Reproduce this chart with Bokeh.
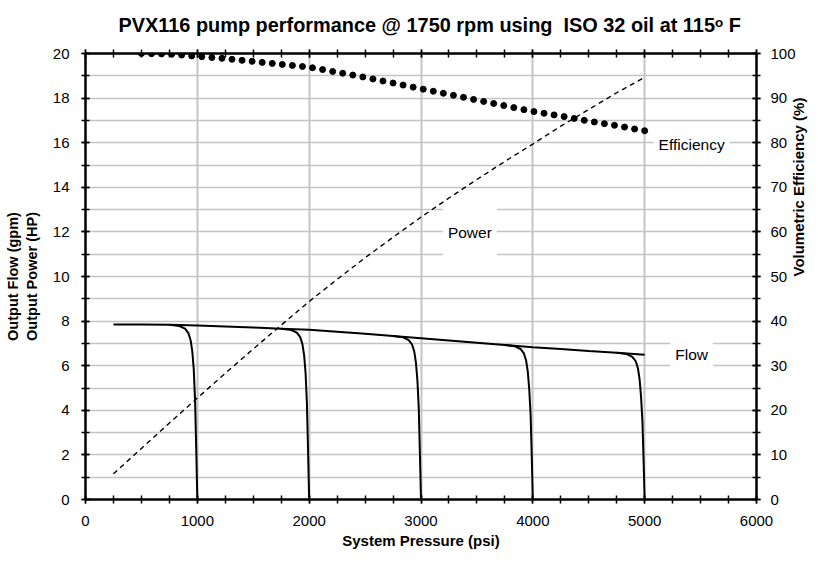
import math
from bokeh.plotting import figure
from bokeh.models import Range1d, LinearAxis, SingleIntervalTicker, Label
from bokeh.embed import file_html
from bokeh.resources import INLINE

FONT = "Liberation Sans"

# ---- data ----
flow_pressure = [250, 500, 750, 1000, 1250, 1500, 1750, 2000, 2250, 2500,
                 2750, 3000, 3250, 3500, 3750, 4000, 4250, 4500, 4750, 5000]
flow_gpm = [7.85, 7.85, 7.84, 7.80, 7.76, 7.71, 7.66, 7.61, 7.52, 7.43,
            7.33, 7.23, 7.13, 7.03, 6.93, 6.83, 6.75, 6.66, 6.58, 6.49]
power_hp = [1.15, 2.29, 3.43, 4.55, 5.66, 6.75, 7.82, 8.88, 9.87, 10.84,
            11.76, 12.66, 13.52, 14.35, 15.16, 15.94, 16.74, 17.49, 18.24, 18.93]

eff_pressure = [500, 590, 680, 770, 860, 950, 1040, 1130, 1220, 1310, 1400, 1490,
                1580, 1670, 1760, 1850, 1940, 2030, 2120, 2210, 2300, 2390, 2480,
                2570, 2660, 2750, 2840, 2930, 3020, 3110, 3200, 3290, 3380, 3470,
                3560, 3650, 3740, 3830, 3920, 4010, 4100, 4190, 4280, 4370, 4460,
                4550, 4640, 4730, 4820, 4910, 5000]
eff_pct = [100.0, 99.95, 99.9, 99.83, 99.65, 99.46, 99.29, 99.10, 98.92, 98.70,
           98.47, 98.24, 98.01, 97.78, 97.55, 97.32, 97.09, 96.80, 96.39, 95.97,
           95.57, 95.16, 94.74, 94.29, 93.83, 93.38, 92.92, 92.46, 92.00, 91.54,
           91.08, 90.62, 90.17, 89.71, 89.25, 88.79, 88.33, 87.87, 87.41, 86.97,
           86.60, 86.23, 85.85, 85.44, 85.02, 84.64, 84.27, 83.90, 83.50, 83.08,
           82.68]

relief_1000_x = [750, 840, 890, 920, 940, 955, 968, 980, 990, 1000]
relief_1000_y = [7.84, 7.78, 7.66, 7.46, 7.14, 6.64, 5.84, 4.40, 2.30, 0.0]
relief_2000_x = [1750, 1840, 1890, 1920, 1940, 1955, 1968, 1980, 1990, 2000]
relief_2000_y = [7.66, 7.60, 7.48, 7.28, 6.96, 6.46, 5.66, 4.30, 2.20, 0.0]
relief_3000_x = [2750, 2840, 2890, 2920, 2940, 2955, 2968, 2980, 2990, 3000]
relief_3000_y = [7.33, 7.27, 7.15, 6.95, 6.63, 6.13, 5.33, 4.10, 2.10, 0.0]
relief_4000_x = [3750, 3840, 3890, 3920, 3940, 3955, 3968, 3980, 3990, 4000]
relief_4000_y = [6.93, 6.87, 6.75, 6.55, 6.23, 5.73, 4.93, 3.80, 2.00, 0.0]
relief_5000_x = [4750, 4840, 4890, 4920, 4940, 4955, 4968, 4980, 4990, 5000]
relief_5000_y = [6.58, 6.52, 6.40, 6.20, 5.88, 5.38, 4.58, 3.50, 1.80, 0.0]

x_ticks_all = [0, 1000, 2000, 3000, 4000, 5000, 6000]

p = figure(width=818, height=563,
           x_range=Range1d(0, 6000), y_range=Range1d(0, 20),
           output_backend="svg", toolbar_location=None,
           min_border_left=85, min_border_right=61,
           min_border_top=53, min_border_bottom=64)
p.extra_y_ranges = {"eff": Range1d(0, 100)}
p.background_fill_color = "white"
p.border_fill_color = "white"
p.outline_line_color = "black"
p.outline_line_width = 2


def style_axis(ax):
    ax.axis_line_color = "black"
    ax.axis_line_width = 2
    ax.major_tick_line_color = "black"
    ax.major_tick_line_width = 1.5
    ax.minor_tick_line_color = "black"
    ax.minor_tick_line_width = 1.5
    ax.major_tick_in = 4
    ax.major_tick_out = 4
    ax.minor_tick_in = 4
    ax.minor_tick_out = 4
    ax.major_label_text_font = FONT
    ax.major_label_text_font_size = "15px"
    ax.major_label_text_color = "black"
    ax.axis_label_text_font = FONT
    ax.axis_label_text_font_style = "bold"
    ax.axis_label_text_font_size = "15px"
    ax.axis_label_text_color = "black"


xa = p.xaxis[0]
xa.ticker = SingleIntervalTicker(interval=1000, num_minor_ticks=4)
style_axis(xa)
xa.major_label_standoff = 12
xa.axis_label = "System Pressure (psi)"
xa.axis_label_standoff = 3

ya = p.yaxis[0]
ya.ticker = SingleIntervalTicker(interval=2, num_minor_ticks=2)
style_axis(ya)
ya.major_label_standoff = 12
ya.axis_label = "Output Flow (gpm)\nOutput Power (HP)"
ya.axis_label_standoff = 10
ya.axis_label_text_font_size = "14.5px"

ra = LinearAxis(y_range_name="eff",
                ticker=SingleIntervalTicker(interval=10, num_minor_ticks=2))
style_axis(ra)
ra.major_label_standoff = 10
ra.axis_label = "Volumetric Efficiency (%)"
ra.axis_label_standoff = 0
try:
    ra.axis_label_orientation = math.pi / 2
except Exception:
    pass
p.add_layout(ra, "right")

ta = LinearAxis(ticker=SingleIntervalTicker(interval=1000, num_minor_ticks=4))
style_axis(ta)
ta.major_label_overrides = {t: "" for t in x_ticks_all}
ta.major_label_text_font_size = "1px"
ta.major_label_standoff = 0
p.add_layout(ta, "above")

p.xgrid.ticker = SingleIntervalTicker(interval=1000)
p.ygrid.ticker = SingleIntervalTicker(interval=1)
p.xgrid.grid_line_color = "#c4c4c4"
p.xgrid.grid_line_width = 2
p.ygrid.grid_line_color = "#c4c4c4"
p.ygrid.grid_line_width = 1.5

# ---- glyphs ----
p.line(flow_pressure, power_hp, line_color="black", line_width=1.4, line_dash="5 4")
p.line(flow_pressure, flow_gpm, line_color="black", line_width=2)
for rx, ry in [(relief_1000_x, relief_1000_y), (relief_2000_x, relief_2000_y),
               (relief_3000_x, relief_3000_y), (relief_4000_x, relief_4000_y),
               (relief_5000_x, relief_5000_y)]:
    p.line(rx, ry, line_color="black", line_width=2)
p.scatter(eff_pressure, eff_pct, y_range_name="eff", size=6,
          fill_color="black", line_color="black")

# ---- series labels with white boxes ----
for txt, x, y, pad in [("Efficiency", 5420, 15.92, (5, 6)),
                       ("Flow", 5420, 6.5, (5, 22)),
                       ("Power", 3437, 11.97, (5, 18))]:
    p.add_layout(Label(x=x, y=y, text=txt, text_align="center", text_baseline="middle",
                       text_font=FONT, text_font_size="15.5px", text_color="black",
                       background_fill_color="white", padding=pad))

p.title.text = "PVX116 pump performance @ 1750 rpm using\u00a0 ISO 32 oil at 115\u1d52 F"
p.title.align = "left"
p.title.offset = 33
p.title.vertical_align = "top"
p.title.text_font = FONT
p.title.text_font_style = "bold"
p.title.text_font_size = "19.9px"
p.title.text_color = "black"
p.title.standoff = 24

open("out.html", "w").write(file_html(p, INLINE))
